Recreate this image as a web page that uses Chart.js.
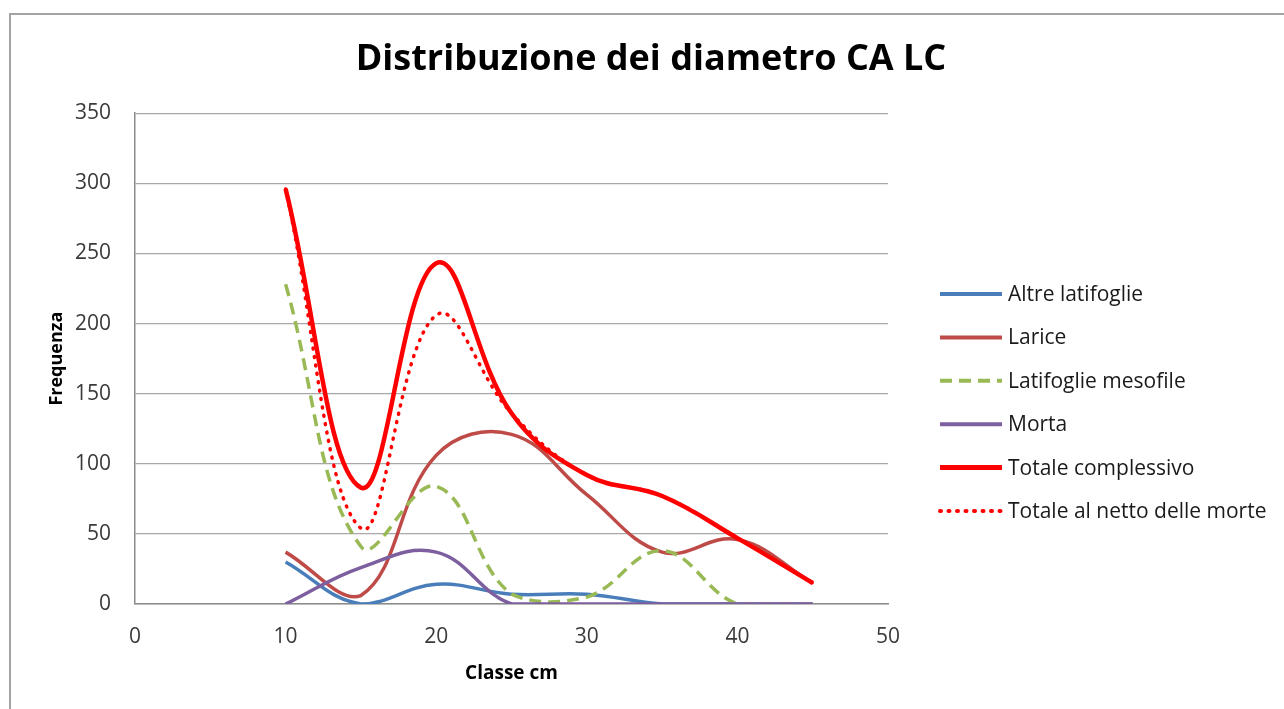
<!DOCTYPE html>
<html>
<head>
<meta charset="utf-8">
<title>Distribuzione dei diametro CA LC</title>
<script src="https://cdn.jsdelivr.net/npm/chart.js@4/dist/chart.umd.min.js"></script>
<style>
    html, body { margin: 0; padding: 0; background: #ffffff; }
    #wrap { position: relative; width: 1284px; height: 709px; overflow: hidden; }
    #frame {
        position: absolute; left: 9px; top: 13px; width: 1400px; height: 800px;
        border-top: 2px solid #a3a3a3; border-left: 2px solid #a3a3a3;
        pointer-events: none;
    }
</style>
</head>
<body>
<div id="wrap">
    <canvas id="diamChart"></canvas>
    <div id="frame"></div>
</div>
<script>
// Data (classi diametriche in cm)
const classi = [10, 15, 20, 25, 30, 35, 40, 45];
const altreLatifoglie = [30, 0, 14, 7, 7, 0, 0, 0];
const larice = [37, 6, 106, 121, 78, 37, 46, 15];
const latifoglieMesofile = [228, 41, 84, 7, 5, 38, 0, 0];
const morta = [0, 26, 37, 0, 0, 0, 0, 0];
const totaleComplessivo = [296, 83, 243, 136, 92, 77, 47, 15];
const totaleNetto = [296, 54, 206, 136, 92, 77, 47, 15];
const yTicks = [0, 50, 100, 150, 200, 250, 300, 350];
const xTicks = [0, 10, 20, 30, 40, 50];

const FONT = '"Open Sans", "Noto Sans", sans-serif';
const TEXT_COLOR = '#3a3a3a';

function toPoints(values) {
    return classi.map((c, i) => ({ x: c, y: values[i] }));
}

function series(label, values, color, width, dash, order, cap) {
    return {
        label: label,
        data: toPoints(values),
        borderColor: color,
        backgroundColor: color,
        borderWidth: width,
        borderDash: dash,
        borderCapStyle: cap || 'butt',
        tension: 0.4,
        pointRadius: 0,
        pointHoverRadius: 0,
        fill: false,
        order: order
    };
}

// Legend drawn on the right like the spreadsheet one
const sideLegend = {
    id: 'sideLegend',
    afterDraw(chart) {
        const ctx = chart.ctx;
        const x0 = 940, lineLen = 62, y0 = 294, step = 43.4;
        ctx.save();
        chart.data.datasets.forEach((ds, i) => {
            const y = y0 + i * step;
            ctx.beginPath();
            ctx.strokeStyle = ds.borderColor;
            ctx.lineWidth = ds.borderWidth + 0.5;
            ctx.lineCap = ds.borderCapStyle;
            ctx.setLineDash(ds.borderDash || []);
            ctx.moveTo(x0, y);
            ctx.lineTo(x0 + lineLen, y);
            ctx.stroke();
            ctx.setLineDash([]);
            ctx.fillStyle = '#1a1a1a';
            ctx.font = '21px ' + FONT;
            ctx.textBaseline = 'middle';
            ctx.textAlign = 'left';
            ctx.fillText(ds.label, x0 + lineLen + 6, y + 1);
        });
        ctx.restore();
    }
};

const ctx = document.getElementById('diamChart').getContext('2d');
const chart = new Chart(ctx, {
    type: 'line',
    data: {
        datasets: [
            series('Altre latifoglie', altreLatifoglie, '#4a7ebb', 3.5, [], 5),
            series('Larice', larice, '#be4b48', 3.5, [], 4),
            series('Latifoglie mesofile', latifoglieMesofile, '#98b954', 3.5, [12, 7], 3),
            series('Morta', morta, '#7d5fa0', 3.5, [], 2),
            series('Totale complessivo', totaleComplessivo, '#ff0000', 4.5, [], 1),
            series('Totale al netto delle morte', totaleNetto, '#ff0000', 3.5, [1, 7.5], 0, 'round')
        ]
    },
    plugins: [sideLegend],
    options: {
        responsive: true,
        maintainAspectRatio: false,
        animation: false,
        layout: { padding: { left: 18, right: 0, top: 0, bottom: 0 } },
        plugins: {
            legend: { display: false },
            tooltip: { enabled: false },
            title: {
                display: true,
                text: 'Distribuzione dei diametro CA LC',
                color: '#000000',
                font: { family: FONT, size: 36, weight: 'bold' },
                padding: { top: 38, bottom: 32 }
            }
        },
        scales: {
            x: {
                type: 'linear',
                min: 0,
                max: 50,
                afterBuildTicks: scale => { scale.ticks = xTicks.map(v => ({ value: v })); },
                grid: { display: false, drawTicks: false },
                border: { display: true, color: '#8c8c8c', width: 1.5 },
                ticks: { color: TEXT_COLOR, font: { family: FONT, size: 21 }, padding: 20, maxRotation: 0 },
                title: {
                    display: true,
                    text: 'Classe cm',
                    color: '#000000',
                    font: { family: FONT, size: 19, weight: 'bold' },
                    padding: { top: 0, bottom: 24 }
                },
                afterFit: scale => { scale.height = 105; }
            },
            y: {
                min: 0,
                max: 350,
                afterBuildTicks: scale => { scale.ticks = yTicks.map(v => ({ value: v })); },
                grid: { color: '#a8a8a8', lineWidth: 1.3, drawTicks: false },
                border: { display: true, color: '#8c8c8c', width: 1.5 },
                ticks: { color: TEXT_COLOR, font: { family: FONT, size: 21 }, padding: 24 },
                title: {
                    display: true,
                    text: 'Frequenza',
                    color: '#000000',
                    font: { family: FONT, size: 18, weight: 'bold' },
                    padding: { top: 28, bottom: 0 }
                },
                afterFit: scale => { scale.width = 117; }
            },
            side: {
                position: 'right',
                min: 0,
                max: 1,
                grid: { display: false, drawTicks: false },
                border: { display: false },
                ticks: { display: false },
                afterFit: scale => { scale.width = 396; }
            }
        }
    }
});
</script>
</body>
</html>
